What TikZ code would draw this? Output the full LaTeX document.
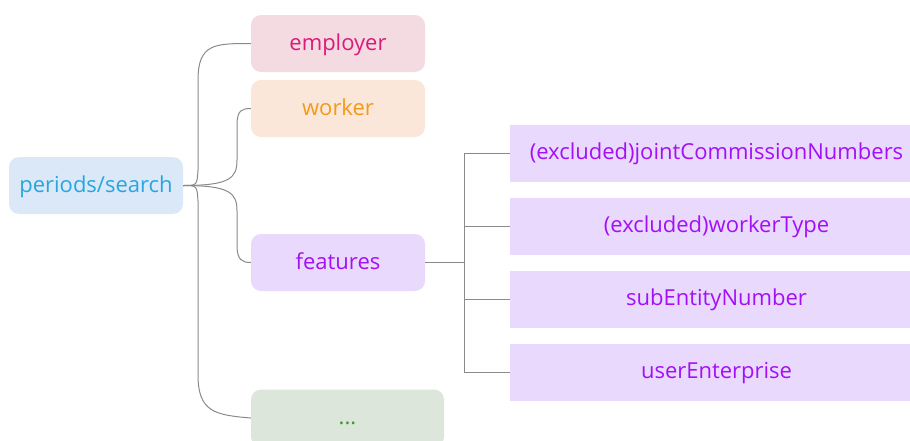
\documentclass[tikz,border=0pt]{standalone}
\usepackage{fontspec}
\setmainfont{Open Sans}
\definecolor{rootfill}{HTML}{DAE8F7}
\definecolor{roottext}{HTML}{27A6E0}
\definecolor{empfill}{HTML}{F4DBE1}
\definecolor{emptext}{HTML}{DC1A7A}
\definecolor{wrkfill}{HTML}{FBE6DA}
\definecolor{wrktext}{HTML}{F39A18}
\definecolor{featfill}{HTML}{E8D9FD}
\definecolor{feattext}{HTML}{A410F5}
\definecolor{morefill}{HTML}{DCE6DA}
\definecolor{moretext}{HTML}{3A9A2A}
\definecolor{linkgray}{HTML}{8A8A8A}
\tikzset{
  topic/.style={rounded corners=10pt, minimum height=57pt, minimum width=174pt,
    inner sep=0pt, text height=17pt, text depth=4pt, font=\fontsize{22}{26}\selectfont},
  leaf/.style={minimum height=57pt, minimum width=413pt, inner sep=0pt,
    text height=17pt, text depth=4pt,
    fill=featfill, text=feattext, font=\fontsize{22}{26}\selectfont},
  link/.style={draw=linkgray, line width=1pt}
}
\begin{document}
\begin{tikzpicture}[x=1pt,y=-1pt]
    \useasboundingbox (0,0) rectangle (910,440);
    \node[topic, fill=rootfill, text=roottext] (root) at (96,185.5) {periods/search};
    \node[topic, fill=empfill, text=emptext] (employer) at (338,43.5) {employer};
    \node[topic, fill=wrkfill, text=wrktext] (worker) at (338,108.5) {worker};
    \node[topic, fill=featfill, text=feattext] (features) at (338,262.5) {features};
    \node[topic, fill=morefill, text=moretext, minimum width=193pt] (more) at (347.5,418) {...};
    \node[leaf] (joint) at (716.5,153) {(excluded)jointCommissionNumbers};
    \node[leaf] (wtype) at (716.5,226) {(excluded)workerType};
    \node[leaf] (subent) at (716.5,299) {subEntityNumber};
    \node[leaf] (usrent) at (716.5,372) {userEnterprise};
    % root to topics
    \draw[link] (root.east) .. controls (197,185.5) .. (198,170) -- (198,80)
        .. controls (198,43.5) and (215,43.5) .. (employer.west);
    \draw[link] (root.east) .. controls (230,185.5) and (237,178) .. (237,160) -- (237,125)
        .. controls (237,110) and (242,108.5) .. (worker.west);
    \draw[link] (root.east) .. controls (230,185.5) and (237,193) .. (237,211) -- (237,245)
        .. controls (237,260) and (242,262.5) .. (features.west);
    \draw[link] (root.east) .. controls (197,185.5) .. (198,201) -- (198,375)
        .. controls (198,412) and (215,415) .. (more.west);
    % features to leaves
    \coordinate (fork) at (464,262.5);
    \draw[link] (features.east) -- (fork);
    \draw[link] (fork |- joint.west) -- (fork |- usrent.west);
    \foreach \n in {joint,wtype,subent,usrent}
        \draw[link] (fork |- \n.west) -- (\n.west);
\end{tikzpicture}
\end{document}
